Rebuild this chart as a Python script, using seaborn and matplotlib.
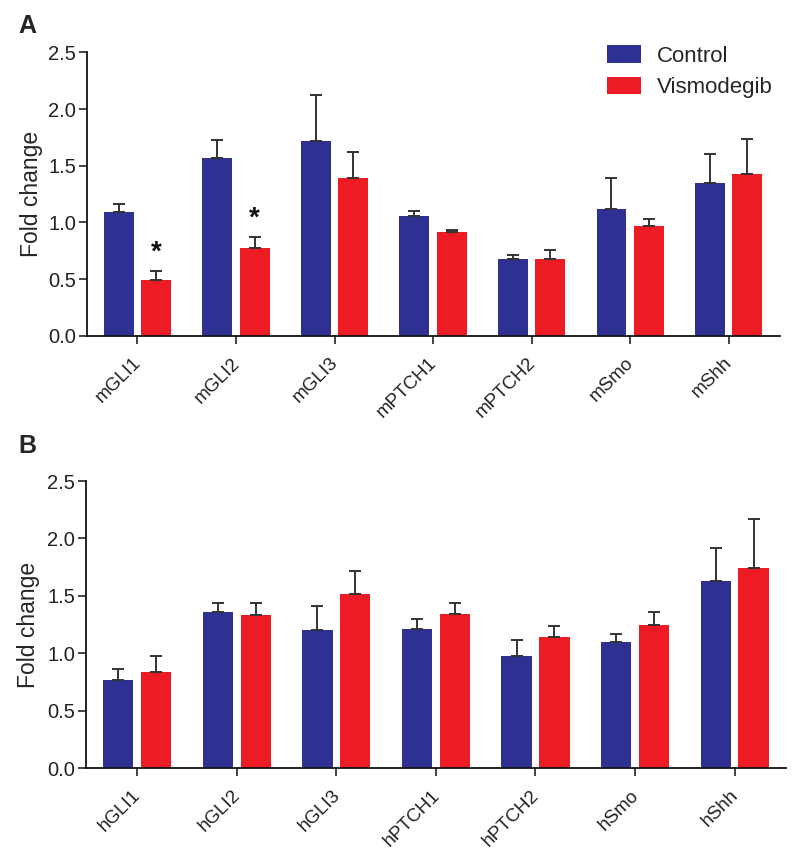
import numpy as np
import pandas as pd
import matplotlib
matplotlib.use("Agg")
import matplotlib.pyplot as plt
import matplotlib.transforms as mtransforms
import seaborn as sns

# ---------------- data ----------------
genes_a = ["mGLI1", "mGLI2", "mGLI3", "mPTCH1", "mPTCH2", "mSmo", "mShh"]
ctrl_a = [1.09, 1.57, 1.72, 1.06, 0.68, 1.12, 1.35]
ctrl_a_err = [0.075, 0.16, 0.40, 0.04, 0.035, 0.27, 0.25]
vis_a = [0.49, 0.775, 1.39, 0.92, 0.68, 0.97, 1.43]
vis_a_err = [0.085, 0.095, 0.23, 0.015, 0.075, 0.06, 0.31]

genes_b = ["hGLI1", "hGLI2", "hGLI3", "hPTCH1", "hPTCH2", "hSmo", "hShh"]
ctrl_b = [0.77, 1.36, 1.20, 1.21, 0.98, 1.10, 1.63]
ctrl_b_err = [0.09, 0.08, 0.21, 0.09, 0.14, 0.07, 0.29]
vis_b = [0.84, 1.33, 1.52, 1.34, 1.14, 1.25, 1.74]
vis_b_err = [0.14, 0.11, 0.20, 0.10, 0.10, 0.11, 0.43]

groups = ["Control", "Vismodegib"]
colors = ["#2E3192", "#ED1C24"]
yticks = [0.0, 0.5, 1.0, 1.5, 2.0, 2.5]
star_genes = ["mGLI1", "mGLI2"]

sns.set_style("ticks")
plt.rcParams["font.family"] = ["Liberation Sans", "DejaVu Sans"]

fig = plt.figure(figsize=(8.0, 8.67), dpi=100)
axA = fig.add_axes([0.109, 0.6125, 0.866, 0.3272])
axB = fig.add_axes([0.108, 0.1138, 0.875, 0.3314])


def panel(ax, genes, c, ce, v, ve, lpad):
    df = pd.DataFrame({
        "gene": genes * 2,
        "group": [groups[0]] * len(genes) + [groups[1]] * len(genes),
        "value": list(c) + list(v),
    })
    sns.barplot(data=df, x="gene", y="value", hue="group", order=genes,
                hue_order=groups, palette=colors, errorbar=None,
                width=0.76, gap=0.2, linewidth=0, saturation=1, ax=ax)
    for cont, err in zip(ax.containers, [ce, ve]):
        xs = [p.get_x() + p.get_width() / 2 for p in cont.patches]
        hs = [p.get_height() for p in cont.patches]
        ax.errorbar(xs, hs, yerr=[np.zeros(len(err)), err], fmt="none",
                    ecolor="#333333", elinewidth=1.4, capsize=4.3,
                    capthick=1.4, zorder=1)
    ax.set_ylim(0, 2.5)
    ax.set_xlim(-0.51, len(genes) - 0.48)
    ax.set_yticks(yticks)
    ax.set_yticklabels([f"{t:.1f}" for t in yticks])
    ax.set_xlabel("")
    ax.set_ylabel("Fold change", fontsize=16.5, labelpad=lpad)
    ax.tick_params(axis="y", labelsize=14.5, length=6, width=1.2,
                   colors="#222222", pad=2)
    ax.tick_params(axis="x", labelsize=13.5, length=6, width=1.2,
                   colors="#222222", pad=3)
    offset = mtransforms.ScaledTranslation(-5 / 100, -6 / 100,
                                           fig.dpi_scale_trans)
    for lab in ax.get_xticklabels():
        lab.set_rotation(45)
        lab.set_ha("right")
        lab.set_rotation_mode("anchor")
        lab.set_transform(lab.get_transform() + offset)
    sns.despine(ax=ax)
    for s in ["left", "bottom"]:
        ax.spines[s].set_linewidth(1.3)
        ax.spines[s].set_color("#111111")
    if ax.get_legend() is not None:
        ax.get_legend().remove()


panel(axA, genes_a, ctrl_a, ctrl_a_err, vis_a, vis_a_err, 4)
panel(axB, genes_b, ctrl_b, ctrl_b_err, vis_b, vis_b_err, 5.5)

# significance stars
vis_cont = axA.containers[1]
for g in star_genes:
    i = genes_a.index(g)
    p = vis_cont.patches[i]
    top = vis_a[i] + vis_a_err[i]
    axA.text(p.get_x() + p.get_width() / 2, top + 0.16, "*", ha="center",
             va="center", fontsize=20, fontweight="bold", color="#111111")

# legend
from matplotlib.patches import Patch
handles = [Patch(facecolor=col, edgecolor="none") for col in colors]
fig.legend(handles, groups, loc="upper left",
           bbox_to_anchor=(607 / 800, 1 - 45 / 867), frameon=False,
           fontsize=16, handlelength=1.55, handleheight=0.85,
           handletextpad=0.7, labelspacing=0.45, borderpad=0,
           borderaxespad=0)

fig.text(18 / 800, 1 - 26 / 867, "A", fontsize=18, fontweight="bold",
         va="center", ha="left")
fig.text(18 / 800, 1 - 446 / 867, "B", fontsize=18, fontweight="bold",
         va="center", ha="left")

fig.savefig("out.png", dpi=100)
